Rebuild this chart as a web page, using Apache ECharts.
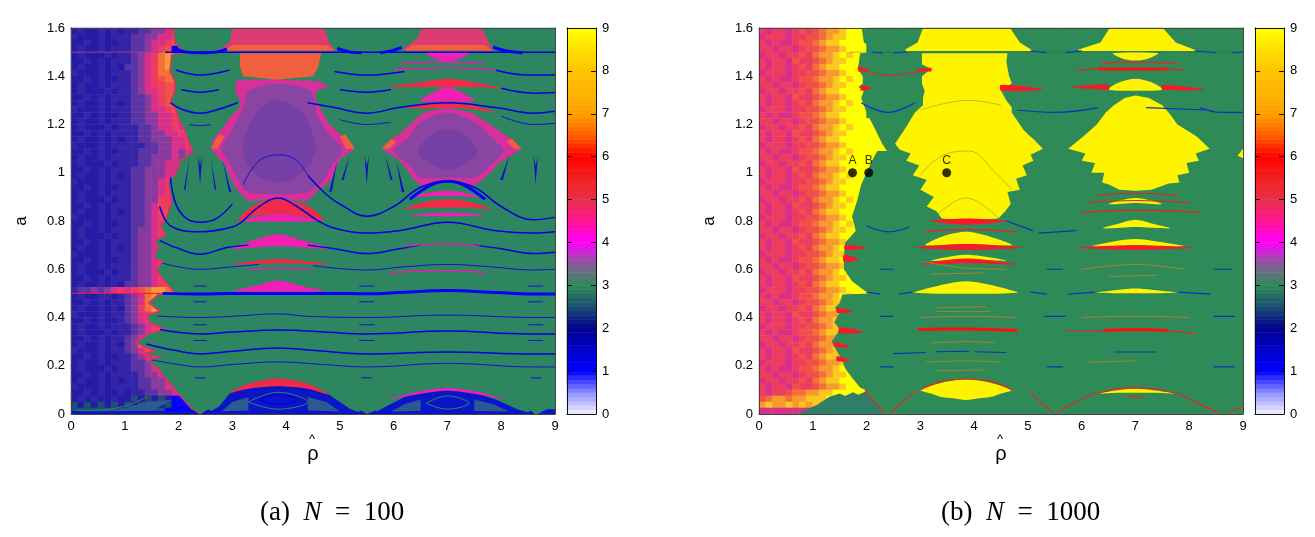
<!DOCTYPE html>
<html>
<head>
<meta charset="utf-8">
<style>html,body{margin:0;background:#fff}#main{width:1315px;height:537px}</style>
<script src="https://cdn.jsdelivr.net/npm/echarts@6/dist/echarts.min.js"></script>
</head>
<body>
<div id="main"></div>
<script>
// noisy left part of each panel, cell codes, one string per a-row from 1.6 down to 0
// digits = value on the colour bar, h = 2.5; l..x = average colour of a speckled patch (see speckleCodes)
// 8 cells per unit of rho, whatever is not listed is 3 (it sits under the green outline anyway)
const rowsA = [
'lmllmlml mmqqrrss','mlllmlmm mqqrrsst','llmlmllm mqqrsstu','lmllmlmm mqqrstu1',
'lmlllmlm mqrstvww','llmlmlmm mqrstvwx','lmllmlml qqrstvww','mlllmlmm mqrstvvw',
'llmlmllm mqrstuvv','lmllmlmm mqrsttuu','lmlllmlm mqrsstuu','llmlmlmm mqqrstuv',
'lmllmlml mqqrstuv','mlllmlmm mqqrsstu','llmlmllm mqqrrsst','lmllmlmm mqqrrsst s',
'lmlllmlm mmqqrsst ss','llmlmlmm mmqqrrss tt','lmllmlml mmqqrrrs stu','mlllmlmm mmmqqrrs stuv',
'llmlmllm mmqqqrrs rsu','lmllmlmm mmqqrrrs r','lmlllmlm mmqqrrss','llmlmlmm mqqrrrss',
'lmllmlml mqqrrrss','mlllmlmm mqqrrsts','llmlmllm mqqrrsts','lmllmlmm mqqrrsts',
'lmlllmlm mqqrrttu','llmlmlmm mqqrsttu','lmllmlml mqqrstuu','mlllmlmm mqqrstuu',
'llmlmllm mqqrstuu','lmllmlmm mqrrsttu','lmlllmlm mqrrsttu','llmlmlmm mqrrstuv',
'lmllmlml mqrrstuv','mlllmlmm mqrrsttu','llmlmllm mqrrstuv','lmllmlmm mqrrsttu',
'lmlllmlm mqrrstuu','llmlmlmm mqrrstuu','lmllmlml qqrrstuv','mqqrqrst stuvwwvv',
'lmllmmlm qrsvwwvv','llmlmlmm qrsvwwwv','lmllmlml qrtvwwvu','mlllmlmm qrstvuvt',
'llmlmllm qrstuuuu','lmllmlmm mqrstuut','lmlllmlm mqrstuut','llmlmlmm qrsuvvvu',
'lmllmlml qrvwwvvu','mlllmlmm qrsuvvuu','llmlmllm mqrstuut','lmllmlmm mqqrstts',
'lmlllmlm mqqrstts','llmlmlmm mmqrrsst','lmllmlml mmqqrrst','mlllmlmm mmqqrrss',
'llmlmllm lmmqqrrs s','lmlmllml lhlhlhl1 11','hlhlhlhl hlhlhlh1 11','hhhhhhhh hhhhhh11 11'
];
const rowsB = [
'tsttstut uvwwx999','stttsttu uvwxx999','tstsstuu vwxx9999','ttsttstu uvwwx999',
'sttsttut vwwx9x99','tsttsutt uvwxx999','tsttstut vwxx9999','stttsttu uvwwx999',
'tstsstuu vwwx9x99','ttsttstu uvwxx999','sttsttut vwxx9999','tsttsutt uvwwx999',
'tsttstut vwwx9x99','stttsttu uvwxx999','tstsstuu vwxx9999','ttsttstu uvwwx999 #',
'sttsttut vwwx9x99 #','tsttsutt uvwxx999 #','tsttstut vwxx9999 #','stttsttu uvwwx999 #',
'tstsstuu vwwx9x99 #','ttsttstu uvwxx999 #','sttsttut vwxx9999 #','tsttsutt uvwwx999 #',
'tsttstut vwwx9x99 #','stttsttu uvwxx999','tstsstuu vwxx9999','ttsttstu uvwwx999',
'sttsttut vwwx9x99','tsttsutt uvwxx999','tsttstut vwxx9999','stttsttu uvwwx999',
'tstsstuu vwwx9x99','ttsttstu uvwxx999','sttsttut vwxx9999','tsttsutt uvwwx999',
'tsttstut vwwx9x99','stttsttu uvwxx999','tstsstuu vwxx9999','ttsttstu uvwwx999',
'sttsttut vwwx9x99','tsttsutt uvwxx999','tsttstut vwxx9999','stttsttu uvwwx999 #',
'tstsstuu vwwx9x99','ttsttstu uvwxx999','sttsttut vwxx9999','tsttsutt uvwwx999',
'tsttstut vwwx9x99','stttsttu uvwxx999','tstsstuu vwxx9999','ttsttstu uvwwx999',
'sttsttut vwwx9x99','tsttsutt uvwxx999','tsttstut vwxx9999','stttsttu uvwwx999',
'tstsstuu vwwx9x99','ttsttstu uvwxx999','sttsttut vwxx9999','tsttsutt uvwwx999',
'tsttuvvw wxx99999 #','uvwwvwwx xx999999','wxwwxwxw xwwx9999','skskskss sk33'
];

// outlines of the regions, [rho, a]
const greenBaseA = [[1.9,1.65],[1.9,1.6],[1.93,1.54],[2.05,1.512],[2.1,1.5],[1.87,1.49],[1.84,1.42],[1.93,1.38],[1.93,1.34],[1.85,1.295],[1.95,1.26],[2,1.22],[2.1,1.18],[2.2,1.12],[2.27,1.09],[2.04,1.05],[1.95,1],[1.8,.96],[1.87,.88],[1.75,.8],[1.65,.79],[1.75,.74],[1.55,.72],[1.62,.69],[1.53,.65],[1.7,.63],[1.58,.6],[1.7,.56],[1.9,.51],[1.95,.5],[1.62,.495],[1.45,.46],[1.65,.425],[1.4,.41],[1.45,.38],[1.75,.35],[1.45,.335],[1.2,.295],[1.55,.26],[1.3,.25],[1.65,.235],[1.4,.225],[1.6,.19],[1.75,.15],[1.9,.11],[2.05,.07],[2.25,.02],[2.38,0],[2.38,-.05],[9.2,-.05],[9.2,1.65]];
const blueFloorA = [
  [[2.5,0],[2.75,.03],[2.95,.085],[3.3,.125],[3.85,.147],[4.4,.125],[4.8,.08],[5.2,.02],[5.45,0]],
  [[5.6,0],[5.85,.03],[6.2,.07],[6.6,.095],[7,.108],[7.4,.095],[7.9,.06],[8.3,.02],[8.6,0]],
  [[2.1,0],[2.25,.02],[2.38,0]], [[2.42,0],[2.55,.02],[2.7,0]], [[5.25,0],[5.4,.015],[5.5,0]], [[5.5,0],[5.65,.015],[5.8,0]],
  [[8.45,0],[8.55,.015],[8.62,0]], [[8.68,0],[8.85,.02],[9,.02],[9,0]], [[0,0],[2.38,0],[2.2,.012],[0,.012]]
];
const tealFloorA = [
  [[2.8,.01],[3,.05],[3.3,.07],[3.3,.015]], [[4.4,.07],[4.75,.05],[5,.01],[4.4,.015]],
  [[5.95,.01],[6.2,.04],[6.5,.06],[6.5,.012]], [[7.5,.06],[7.85,.04],[8.15,.01],[7.5,.012]],
  [[.1,.01],[1.5,.012],[1.9,.06],[1.4,.05],[.9,.02]]
];
const topPinkA = [
  [[3,1.6],[2.95,1.54],[2.75,1.51],[2.9,1.505],[4.92,1.505],[4.8,1.54],[4.7,1.6]],
  [[6.52,1.6],[6.45,1.56],[6.17,1.51],[6.3,1.505],[7.85,1.505],[7.75,1.55],[7.64,1.6]]
];
const pinkA = [
  [[3.08,1.385],[3.85,1.385],[4.6,1.38],[4.8,1.355],[4.55,1.34],[4.55,1.3],[4.63,1.27],[4.8,1.2],[4.9,1.185],[5,1.16],[5.1,1.14],[5.28,1.1],[5.1,1.07],[5,1.06],[4.9,1],[4.8,.96],[4.6,.93],[4.4,.88],[3.85,.895],[3.3,.88],[3.05,.94],[2.95,.99],[2.85,1.04],[2.75,1.06],[2.6,1.1],[2.65,1.14],[2.83,1.19],[3,1.24],[3.14,1.27],[3.14,1.3],[3.05,1.34]],
  [[7,1.27],[7.45,1.25],[7.8,1.2],[8.05,1.16],[8.2,1.14],[8.38,1.1],[8.1,1.06],[7.95,1.04],[7.85,1.01],[7.7,.98],[7.5,.945],[7,.965],[6.5,.945],[6.35,.98],[6.25,1.01],[6.15,1.04],[6.05,1.06],[5.78,1.1],[5.95,1.14],[6.1,1.16],[6.3,1.2],[6.55,1.25]]
];
const orangeA = [
  [[3.14,1.495],[4.65,1.495],[4.6,1.44],[4.5,1.4],[3.85,1.385],[3.2,1.4],[3.14,1.44]],
  [[3,1.53],[4.75,1.53],[4.9,1.507],[2.85,1.507]], [[6.35,1.53],[7.7,1.53],[7.82,1.507],[6.2,1.507]],
  [[2.6,1.1],[2.75,1.16],[2.85,1.15],[2.72,1.1]], [[5.28,1.1],[5.1,1.16],[5,1.15],[5.12,1.1]],
  [[5.78,1.1],[5.95,1.14],[6.05,1.13],[5.92,1.1]], [[8.38,1.1],[8.2,1.14],[8.1,1.13],[8.24,1.1]]
];
const purpleA = [
  [[3.85,1.37],[4.45,1.34],[4.58,1.24],[4.8,1.16],[5.05,1.1],[4.85,1.03],[4.7,.97],[4.4,.92],[3.85,.91],[3.3,.92],[3.1,.97],[2.95,1.04],[2.8,1.1],[3,1.18],[3.22,1.28],[3.3,1.34]],
  [[7,1.25],[7.5,1.21],[7.9,1.13],[8.05,1.09],[7.75,1.02],[7.5,.98],[7,.98],[6.5,.98],[6.3,1.03],[6,1.09],[6.3,1.15],[6.5,1.21]]
];
const indigoA = [
  [[3.85,1.3],[4.3,1.25],[4.55,1.1],[4.3,1],[3.85,.96],[3.4,1],[3.2,1.1],[3.45,1.25]],
  [[7,1.18],[7.4,1.14],[7.55,1.08],[7.25,1.03],[7,1.01],[6.75,1.03],[6.45,1.08],[6.6,1.14]]
];
const redLensA = [
  [[5.9,1.355],[6.5,1.375],[7,1.39],[7.5,1.375],[8,1.35],[7.5,1.355],[7,1.355],[6.5,1.355]],
  [[6.2,1.27],[6.6,1.285],[7,1.295],[7.4,1.285],[7.9,1.25],[7.4,1.265],[7,1.27],[6.6,1.265]],
  [[3.3,.85],[3.6,.885],[3.85,.893],[4.1,.885],[4.5,.85],[4.7,.8],[4.3,.82],[3.85,.83],[3.4,.82],[3.1,.8]],
  [[3,.62],[3.85,.642],[4.8,.62],[3.85,.625]],
  [[6.2,.85],[6.6,.88],[7,.89],[7.4,.88],[7.8,.85],[7.4,.855],[7,.855],[6.6,.855]],
  [[2.95,.088],[3.3,.125],[3.85,.147],[4.4,.125],[4.8,.08],[4.4,.105],[3.85,.115],[3.3,.105]]
];
const magentaLensA = [
  [[6.6,1.495],[7,1.498],[7.4,1.495],[7.2,1.47],[7,1.46],[6.8,1.47]],
  [[6.5,1.3],[6.9,1.35],[7,1.355],[7.1,1.35],[7.5,1.3],[7.1,1.295],[6.9,1.295]],
  [[3.2,.8],[3.85,.83],[4.6,.8],[3.85,.797]],
  [[3,.685],[3.4,.72],[3.85,.745],[4.3,.72],[4.8,.685],[4.3,.69],[3.85,.695],[3.4,.69]],
  [[3,.51],[3.4,.53],[3.85,.553],[4.3,.53],[4.7,.51]],
  [[6.3,.825],[7,.835],[7.7,.825],[7,.82]], [[6.3,.9],[7,.925],[7.6,.9],[7,.905]],
  [[5.9,.06],[6.4,.09],[7,.108],[7.6,.09],[8.1,.06],[7.6,.08],[7,.096],[6.4,.08]]
];
const fanMarksA = [
  [[2.4,.95],[2.36,1.07],[2.4,1.03],[2.44,1.07]], [[5.5,.95],[5.46,1.07],[5.5,1.03],[5.54,1.07]], [[8.64,.95],[8.6,1.07],[8.64,1.03],[8.68,1.07]],
  [[2.1,.93],[2.2,1.06],[2.13,.93]], [[2.7,.93],[2.6,1.06],[2.67,.93]], [[2.98,.92],[2.82,1.05],[2.94,.92]],
  [[5.03,.97],[5.18,1.07],[5.07,.97]], [[5.98,.97],[5.85,1.07],[5.94,.97]], [[6.2,.92],[6.05,1.05],[6.15,.92]], [[7.98,.97],[8.15,1.07],[8.03,.97]], [[4.8,.92],[4.95,1.05],[4.85,.92]]
];

const blueThickA = [
  [[1.7,.5],[2.4,.497],[3,.5],[3.85,.5],[4.8,.5],[5.5,.498],[6.2,.505],[7,.512],[7.8,.505],[8.6,.497],[9,.497]],
  [[6.3,.89],[6.7,.95],[7,.965],[7.3,.95],[7.7,.89]],
  [[1.95,1.513],[2.15,1.5],[2.4,1.497],[2.7,1.5],[2.9,1.513]],
  [[4.95,1.515],[5.2,1.5],[5.4,1.497]], [[5.75,1.497],[5.95,1.505],[6.15,1.52]], [[7.85,1.52],[8.1,1.505],[8.4,1.497]]
];
const blueMidA = [
  [[1.75,1.5],[9,1.5]],
  [[1.95,1.426],[2.4,1.405],[2.95,1.426]], [[4.9,1.42],[5.5,1.405],[6.2,1.42]], [[7.9,1.425],[8.5,1.405],[9,1.405]],
  [[2.05,1.345],[2.4,1.334],[2.75,1.345]], [[5,1.345],[5.5,1.334],[5.95,1.345]], [[8,1.35],[8.6,1.33],[9,1.333]],
  [[1.85,1.29],[2.1,1.26],[2.4,1.247],[2.7,1.26],[3.1,1.29]],
  [[4.4,1.29],[4.9,1.27],[5.5,1.247],[6.1,1.27],[7,1.29],[7.9,1.27],[8.6,1.247],[9,1.255]],
  [[1.85,.98],[1.95,.87],[2.15,.81],[2.4,.795],[2.7,.81],[3,.87]],
  [[4.4,.99],[4.75,.91],[5,.87],[5.5,.82],[6,.86],[6.5,.94],[7,.965],[7.5,.94],[8,.86],[8.6,.805],[9,.815]],
  [[3.2,.8],[3.5,.86],[3.85,.895],[4.2,.86],[4.6,.8],[4.9,.77],[5.5,.75],[6.1,.76],[7,.795],[7.9,.76],[8.6,.75],[9,.755]],
  [[1.65,.86],[1.85,.78],[2.4,.755],[3,.775],[3.2,.8]],
  [[1.65,.72],[1.95,.69],[2.4,.662],[2.9,.69],[3.3,.7]], [[4.4,.7],[4.9,.685],[5.5,.665],[6.1,.685],[6.5,.7]], [[7.5,.7],[8,.685],[8.6,.665],[9,.67]],
  [[1.65,.35],[2.4,.332],[3,.34],[3.85,.348],[4.7,.34],[5.5,.332],[7,.344],[8.5,.332],[9,.332]],
  [[1.4,.29],[1.9,.265],[2.4,.249],[3,.26],[3.85,.274],[4.6,.262],[5.5,.249],[7,.257],[8.6,.249],[9,.25]],
  [[3.5,.06],[3.85,.08],[4.2,.06],[3.85,.04],[3.5,.06]]
];
const blueThinA = [
  [[2.2,1.2],[2.4,1.195],[2.6,1.2]], [[5,1.22],[5.5,1.2],[5.95,1.21]], [[8,1.235],[8.6,1.2],[9,1.205]],
  [[3.2,.95],[3.5,1.05],[3.9,1.074],[4.2,1.05],[4.4,.99]],
  [[1.7,.625],[2,.61],[2.4,.6],[3,.61],[3.5,.62]], [[4.5,.615],[5.5,.597],[6.2,.61],[7,.62],[7.8,.61],[8.6,.597],[9,.6]],
  [[1.6,.406],[2.4,.4],[3,.405],[3.85,.415],[4.4,.405],[5.5,.4],[7,.41],[8.6,.4],[9,.4]],
  [[1.5,.224],[2,.205],[2.4,.195],[3,.205],[3.85,.216],[4.7,.205],[5.5,.195],[7,.21],[8.6,.195],[9,.195]],
  [[2.28,.53],[2.52,.53]], [[5.36,.53],[5.64,.53]], [[8.5,.53],[8.78,.53]],
  [[2.28,.465],[2.52,.465]], [[5.36,.465],[5.64,.465]], [[8.5,.465],[8.78,.465]],
  [[2.28,.37],[2.52,.37]], [[5.36,.37],[5.64,.37]], [[8.5,.37],[8.78,.37]],
  [[2.28,.305],[2.52,.305]], [[5.36,.305],[5.64,.305]], [[8.5,.305],[8.78,.305]],
  [[2.3,.15],[2.5,.15]], [[5.4,.15],[5.6,.15]], [[8.55,.15],[8.75,.15]]
];
const lineTintA = [[[0,1.5],[1.7,1.5]]];
const magentaA = [
  [[6.1,1.45],[7,1.46],[7.7,1.45]], [[6,1.425],[7,1.435],[7.9,1.425]], [[6.2,.695],[7,.705],[7.6,.695]],
  [[5.9,.585],[7,.595],[7.7,.585]], [[3.3,.6],[3.85,.605],[4.5,.6]]
];
const redA = [[[0,.5],[1.7,.5]]];
const greenA = [
  [[.1,.015],[.7,.02],[1.1,.04],[1.4,.07]],
  [[3.3,.05],[3.85,.09],[4.4,.05],[3.85,.02],[3.3,.05]], [[6.6,.045],[7,.075],[7.4,.045],[7,.02],[6.6,.045]]
];

const greenBaseB = [[1.91,1.65],[1.91,1.6],[1.95,1.54],[2.16,1.51],[2.2,1.5],[1.88,1.495],[1.84,1.43],[1.93,1.4],[1.93,1.37],[1.85,1.355],[1.95,1.34],[1.9,1.31],[1.95,1.28],[2,1.25],[2.16,1.18],[2.29,1.12],[2.38,1.09],[2.2,1.09],[2.1,1.05],[2,1],[1.9,.95],[1.82,.88],[1.73,.82],[1.8,.76],[1.6,.71],[1.58,.65],[1.58,.6],[1.73,.55],[1.97,.51],[2.1,.5],[1.55,.495],[1.5,.46],[1.41,.44],[1.5,.42],[1.4,.38],[1.5,.35],[1.35,.3],[1.45,.26],[1.55,.22],[1.6,.19],[1.73,.15],[1.88,.11],[1.98,.1],[2.35,0],[2.35,-.05],[9.2,-.05],[9.2,1.65]];
const greenFanB = [[1.3,.07],[1.5,.085],[1.6,.075],[1.75,.09],[1.85,.08],[2,.095],[2.3,0],[.7,0],[.9,.02],[1.1,.04]];
const yellowB = [
  [[3.05,1.6],[2.95,1.54],[2.71,1.51],[2.75,1.505],[5.1,1.505],[4.85,1.54],[4.67,1.6]],
  [[6.52,1.6],[6.35,1.54],[5.93,1.51],[5.95,1.505],[8.16,1.505],[7.75,1.54],[7.51,1.6]],
  [[3.03,1.495],[4.62,1.495],[4.6,1.46],[4.65,1.4],[4.7,1.37],[4.5,1.34],[4.6,1.3],[4.7,1.27],[4.7,1.25],[4.91,1.18],[5,1.16],[5.1,1.14],[5.28,1.1],[5.05,1.075],[5.1,1.05],[4.9,1.03],[4.98,.99],[4.78,.975],[4.85,.93],[4.62,.92],[4.68,.87],[4.58,.84],[4.45,.81],[3.85,.8],[3.4,.81],[3.3,.84],[3.12,.86],[3.25,.9],[3,.93],[3.12,.97],[2.86,.99],[2.98,1.03],[2.74,1.05],[2.82,1.08],[2.62,1.095],[2.53,1.12],[2.71,1.18],[2.9,1.25],[3.05,1.28],[3.05,1.31],[3.08,1.34],[3.03,1.37],[3.03,1.4],[3.2,1.43],[3.03,1.45]],
  [[7,1.32],[7.25,1.31],[7.5,1.28],[7.65,1.24],[7.78,1.2],[8.14,1.15],[8.38,1.1],[8.12,1.08],[8.18,1.05],[7.95,1.04],[8,1],[7.78,.99],[7.82,.96],[7.62,.955],[7.3,.93],[7,.925],[6.7,.93],[6.52,.95],[6.38,.96],[6.42,1],[6.18,1],[6.25,1.04],[6,1.05],[6.07,1.08],[5.75,1.1],[6.03,1.15],[6.28,1.2],[6.45,1.25],[6.6,1.28],[6.8,1.31]],
  [[8.9,1.07],[9,1.1],[9,1.06]]
];
const yellowLensB = [
  [[6.58,1.495],[7.42,1.495],[7.2,1.47],[7,1.465],[6.8,1.47]],
  [[6.5,1.345],[6.7,1.375],[7,1.39],[7.3,1.375],[7.5,1.345],[7,1.34]],
  [[6.5,.87],[7,.895],[7.5,.87],[7,.875]], [[6.4,.77],[6.7,.79],[7,.805],[7.3,.79],[7.65,.77],[7,.775]],
  [[6.2,.695],[6.6,.715],[7,.725],[7.4,.715],[7.9,.695],[7,.7]],
  [[3.1,.7],[3.4,.735],[3.85,.755],[4.3,.735],[4.7,.7],[3.85,.705]],
  [[3.2,.635],[3.85,.66],[4.6,.635],[3.85,.64]],
  [[2.9,.503],[3.3,.53],[3.85,.55],[4.4,.53],[4.8,.503]],
  [[6.3,.503],[6.7,.515],[7,.52],[7.3,.515],[7.75,.503]],
  [[3,.1],[3.4,.13],[3.85,.143],[4.3,.13],[4.7,.1],[4.5,.085],[4.3,.07],[4.1,.065],[3.85,.058],[3.6,.065],[3.4,.07],[3.2,.085]],
  [[6.3,.085],[6.7,.1],[7,.105],[7.3,.1],[7.75,.085],[7.3,.088],[7,.088],[6.7,.088]]
];
const redLensB = [
  [[5.9,.69],[7,.7],[8.1,.69],[7,.68]], [[2.9,.69],[3.85,.705],[4.9,.69],[3.85,.68]],
  [[3.2,.8],[3.85,.81],[4.6,.8],[3.85,.785]], [[3,.62],[3.85,.645],[4.8,.62],[3.85,.625]],
  [[1.6,.7],[2,.688],[1.6,.68]], [[1.58,.66],[1.85,.64],[1.58,.63]], [[1.45,.44],[1.75,.425],[1.45,.42]],
  [[1.5,.36],[1.95,.34],[1.5,.335]], [[1.4,.3],[1.7,.28],[1.4,.28]], [[1.45,.24],[1.7,.22],[1.45,.22]],
  [[1.85,1.44],[2.05,1.425],[1.85,1.42]], [[1.9,1.36],[2.1,1.35],[1.9,1.34]], [[3.2,1.435],[2.9,1.425],[3.2,1.42]],
  [[4.5,1.365],[5.3,1.345],[4.5,1.34]], [[5.8,1.355],[6.5,1.365],[6.5,1.345]], [[7.5,1.365],[8.3,1.345],[7.5,1.345]]
];
const redThickB = [
  [[2.95,.35],[3.5,.352],[3.85,.352],[4.3,.35],[4.8,.345]],
  [[6.3,1.43],[7,1.43],[7.6,1.43]], [[6.4,.345],[7,.35],[7.6,.345]]
];
const redThinB = [
  [[6.35,1.455],[7,1.46],[7.8,1.455]], [[5.9,1.425],[7,1.435],[7.9,1.425]],
  [[6.3,.905],[7,.915],[7.8,.905]], [[6.1,.875],[7,.885],[8,.875]], [[6,.835],[7,.845],[8.2,.835]],
  [[3.1,.755],[3.85,.765],[4.8,.755]],
  [[1.97,.1],[2.15,.05],[2.33,.005]], [[2.45,.005],[2.7,.055],[2.95,.1]],
  [[5.05,.09],[5.25,.045],[5.47,.005]], [[5.55,.005],[5.9,.05],[6.3,.09]], [[7.75,.09],[8.15,.045],[8.55,.005]], [[8.7,.005],[9,.03]],
  [[3,.1],[3.4,.135],[3.85,.145],[4.3,.135],[4.7,.1]], [[6.3,.085],[6.7,.105],[7,.108],[7.3,.105],[7.75,.085]],
  [[6.85,.065],[7,.075],[7.15,.065]],
  [[5.7,.345],[6.4,.345]], [[7.6,.345],[8.1,.335]], [[1.85,1.43],[2.4,1.405],[3.2,1.43]]
];
const oliveB = [
  [[3.1,.63],[3.85,.605],[4.6,.6]], [[6,.6],[7,.62],[7.9,.6]], [[3.2,.58],[4.2,.585]], [[6.5,.57],[7.4,.575]],
  [[3,.4],[3.85,.405],[4.8,.4]], [[6,.4],[7,.405],[8,.4]], [[3.3,.44],[4.2,.445]], [[3.3,.425],[4.3,.425]],
  [[3.2,.295],[3.85,.3],[4.4,.295]], [[3.1,.215],[3.85,.22],[4.5,.215]], [[3.3,.18],[4.2,.182]], [[6.1,.215],[7,.22]]
];
const blueB = [
  [[2.1,1.5],[2.3,1.497]], [[2.5,1.497],[2.75,1.5]], [[5.05,1.505],[5.35,1.498]], [[5.7,1.498],[6,1.505]], [[8.1,1.505],[8.5,1.498]], [[8.8,1.498],[9,1.5]],
  [[5.05,.505],[5.35,.497]], [[5.75,.497],[6.25,.505]], [[7.8,.505],[8.4,.497]], [[2,.505],[2.25,.497]], [[2.6,.497],[2.85,.505]],
  [[2.25,.405],[2.5,.405]], [[5.3,.405],[5.7,.405]], [[8.45,.405],[8.85,.405]],
  [[2.25,.195],[2.5,.195]], [[5.35,.195],[5.65,.195]], [[8.45,.195],[8.85,.195]],
  [[2.25,.6],[2.5,.6]], [[5.35,.6],[5.65,.6]], [[8.45,.6],[8.8,.6]],
  [[2.5,.25],[3.1,.255]], [[3.3,.258],[3.9,.26]], [[4,.258],[4.6,.255]], [[6.6,.257],[7.4,.257]],
  [[7.2,1.27],[8.3,1.26]], [[1.9,1.29],[2.4,1.25],[2.9,1.29]], [[4.8,1.26],[5.5,1.25],[6.3,1.27]], [[8.2,1.27],[8.6,1.25],[9,1.25]],
  [[5.2,.75],[5.9,.76]], [[4.6,.8],[5.1,.76]], [[2,.78],[2.4,.755],[2.8,.775]]
];
const greyB = [
  [[1.7,1.5],[9,1.5]],
  [[3,.99],[3.4,1.07],[3.9,1.09],[4.4,1],[4.7,.93]],
  [[3.2,.8],[3.5,.86],[3.85,.895],[4.2,.86],[4.5,.8]],
  [[3,1.26],[3.9,1.3],[4.5,1.28]]
];

const pointNames = ['A', 'B', 'C'];
const pointRho = [1.74, 2.04, 3.49];
const pointA = [1, 1, 1];

// colour bar stops every 0.5 from 0 to 9, then the averaged speckle colours above 9
const colorStops = ['#f4f2ff', '#8f8fff', '#0000ff', '#0000c8', '#000090', '#1c4f72', '#2e8b57', '#8a5a96', '#ff00ff', '#ff1493',
  '#e8304a', '#f02020', '#ff0000', '#ff6000', '#ffa000', '#ffb400', '#ffc400', '#ffe000', '#ffff00',
  '#241ca6', '#3424a8', '#5a34a4', '#8a3a9e', '#d83088', '#ee3c60', '#f0504a', '#f47038', '#f89a30', '#fcc820'];
const speckleCodes = { h: 2.5, l: 9.5, m: 10, q: 10.5, r: 11, s: 11.5, t: 12, u: 12.5, v: 13, w: 13.5, x: 14, k: 11.5 };
const barLevels = [];
for (let i = 0; i < 90; i++) barLevels.push((i + 0.5) / 10);

const FONT = '"Liberation Sans", Arial, sans-serif';
const SERIF = '"Liberation Serif", serif';

function cellsFrom(rows) {
  const out = [];
  rows.forEach((row, r) => {
    let text = row.split(' ').map(g => g === '#' ? '99999999' : g).join('');
    text = text.padEnd(72, '3');
    for (let c = 0; c < text.length; c++) {
      const ch = text[c];
      out.push([c, rows.length - 1 - r, speckleCodes[ch] !== undefined ? speckleCodes[ch] : +ch]);
    }
  });
  return out;
}
function indexList(n) {
  const a = [];
  for (let i = 0; i < n; i++) a.push(i);
  return a;
}

const grids = [], xAxes = [], yAxes = [], series = [], heatIdx = [];
const frame = { show: true, onZero: false, lineStyle: { color: '#444', width: 1 } };
const barFrame = { show: true, onZero: false, lineStyle: { color: '#111', width: 1 } };

function catAxis(n, position, gridIndex, line) {
  return { type: 'category', gridIndex, position, data: indexList(n), z: 10, silent: true,
    axisLine: line, axisTick: { show: false }, axisLabel: { show: false }, splitLine: { show: false } };
}

let layer = 3;
function addRegions(ax, lists, fill, smooth, stroke) {
  layer += 0.01;
  series.push({ type: 'custom', coordinateSystem: 'cartesian2d', xAxisIndex: ax.nx + 1, yAxisIndex: ax.ny + 1, silent: true, z: layer, clip: true,
    data: lists.map((_, i) => [i, 0]),
    renderItem: (params, api) => ({ type: 'polygon',
      shape: { points: lists[params.dataIndex].map(p => api.coord(p)), smooth: smooth || 0 },
      style: { fill, stroke: stroke || 'none', lineWidth: stroke ? 1.5 : 0 } }) });
}
function addCurves(ax, lines, color, width, opacity) {
  lines.forEach(data => series.push({ type: 'line', xAxisIndex: ax.nx + 1, yAxisIndex: ax.ny + 1, data, smooth: 0.4,
    showSymbol: false, silent: true, z: 4, lineStyle: { color, width, opacity: opacity || 1 } }));
}

function addPanel(left, rows) {
  const g = grids.length;
  grids.push({ left, top: 28, width: 484, height: 386 });
  const nx = xAxes.length, ny = yAxes.length;
  xAxes.push(catAxis(72, 'top', g, frame));
  yAxes.push(catAxis(64, 'right', g, frame));
  xAxes.push({ type: 'value', gridIndex: g, position: 'bottom', min: 0, max: 9, interval: 1, z: 10,
    name: 'ρ', nameLocation: 'middle', nameGap: 30, nameTextStyle: { fontFamily: FONT, fontSize: 20, color: '#000' },
    axisLine: frame, axisTick: { show: false }, splitLine: { show: false },
    axisLabel: { fontFamily: FONT, fontSize: 13, color: '#000', margin: 6 } });
  yAxes.push({ type: 'value', gridIndex: g, position: 'left', min: 0, max: 1.6, interval: 0.2, z: 10,
    name: 'a', nameLocation: 'middle', nameGap: 41, nameRotate: 90, nameTextStyle: { fontFamily: FONT, fontSize: 17, color: '#000' },
    axisLine: frame, axisTick: { show: false }, splitLine: { show: false },
    axisLabel: { fontFamily: FONT, fontSize: 13, color: '#000', margin: 6 } });
  heatIdx.push(series.length);
  series.push({ type: 'heatmap', xAxisIndex: nx, yAxisIndex: ny, data: cellsFrom(rows), progressive: 0, silent: true,
    emphasis: { disabled: true } });
  return { nx, ny };
}

function addBar(left) {
  const g = grids.length;
  grids.push({ left, top: 28, width: 29, height: 386 });
  const nx = xAxes.length, ny = yAxes.length;
  xAxes.push(catAxis(1, 'bottom', g, barFrame), catAxis(1, 'top', g, barFrame));
  const barTick = { show: true, inside: true, length: 5, lineStyle: { color: '#111', width: 1 } };
  yAxes.push({ type: 'category', gridIndex: g, data: barLevels, show: false });
  yAxes.push({ type: 'value', gridIndex: g, position: 'left', min: 0, max: 9, interval: 1, z: 10,
    axisLine: barFrame, axisTick: barTick, axisLabel: { show: false }, splitLine: { show: false } });
  yAxes.push({ type: 'value', gridIndex: g, position: 'right', min: 0, max: 9, interval: 1, z: 10,
    axisLine: barFrame, axisTick: barTick, splitLine: { show: false },
    axisLabel: { fontFamily: FONT, fontSize: 13, color: '#000', margin: 6 } });
  heatIdx.push(series.length);
  series.push({ type: 'heatmap', xAxisIndex: nx, yAxisIndex: ny, progressive: 0, silent: true, emphasis: { disabled: true },
    data: barLevels.map((v, i) => [0, i, v]) });
}

const left = addPanel(71, rowsA);
addRegions(left, [greenBaseA], '#2e8660', 0, '#ee2a6a');
addRegions(left, blueFloorA, '#0a14c8');
addRegions(left, tealFloorA, '#2a5a90');
addRegions(left, topPinkA, '#e03a72');
addRegions(left, pinkA, '#d8309a');
addRegions(left, orangeA, '#f0603c');
addRegions(left, purpleA, '#8a44a2', 0.25);
addRegions(left, indigoA, '#7440a6', 0.3);
addRegions(left, redLensA, '#f02a48', 0.3);
addRegions(left, magentaLensA, '#f020b4', 0.3);
addRegions(left, fanMarksA, '#1010c8');
addCurves(left, blueThickA, '#0000ff', 3);
addCurves(left, blueMidA, '#0000e0', 1.5);
addCurves(left, blueThinA, '#1010d0', 1);
addCurves(left, lineTintA, '#a04090', 1);
addCurves(left, magentaA, '#ff10c0', 1.2);
addCurves(left, redA, '#f01840', 1);
addCurves(left, greenA, '#2e8b57', 1);
addBar(567);

const right = addPanel(759, rowsB);
addRegions(right, [greenBaseB], '#2e8b57');
addRegions(right, [greenFanB], '#2f7f68');
addRegions(right, yellowB, '#fff400');
addRegions(right, yellowLensB, '#fff400', 0.3);
addRegions(right, redLensB, '#f81828', 0.3);
addCurves(right, redThickB, '#ff1010', 3);
addCurves(right, redThinB, '#f02020', 1.2);
addCurves(right, oliveB, '#c08030', 1, 0.8);
addCurves(right, blueB, '#1030c0', 1.2);
addCurves(right, greyB, '#2a6a5a', 0.8, 0.45);
addBar(1255);

series.push({ type: 'scatter', xAxisIndex: right.nx + 1, yAxisIndex: right.ny + 1, symbolSize: 9, z: 6, silent: true,
  itemStyle: { color: '#000' },
  label: { show: true, position: 'top', distance: 2, formatter: p => p.name, fontFamily: FONT, fontSize: 12, color: '#000' },
  data: pointNames.map((name, i) => ({ name, value: [pointRho[i], pointA[i]] })) });

function caption(text, x) {
  return { text, left: x, top: 494, textStyle: { fontFamily: SERIF, fontSize: 27, fontWeight: 'normal', color: '#000',
    rich: { i: { fontFamily: SERIF, fontStyle: 'italic', fontSize: 27, color: '#000' },
            t: { fontFamily: SERIF, fontSize: 27, color: '#000' } } } };
}
function hat(x) {
  return { type: 'text', left: x, top: 433, z: 20, style: { text: '^', fontFamily: FONT, fontSize: 13, fill: '#000' } };
}

const chart = echarts.init(document.getElementById('main'), null, { renderer: 'canvas' });
chart.setOption({
  animation: false,
  backgroundColor: '#fff',
  title: [caption('{t|(a)  }{i|N}{t|  =  100}', 255), caption('{t|(b)  }{i|N}{t|  =  1000}', 936)],
  graphic: [hat(309), hat(997)],
  grid: grids,
  xAxis: xAxes,
  yAxis: yAxes,
  visualMap: { type: 'continuous', show: false, min: 0, max: 14, seriesIndex: heatIdx, inRange: { color: colorStops } },
  series
});
</script>
</body>
</html>
